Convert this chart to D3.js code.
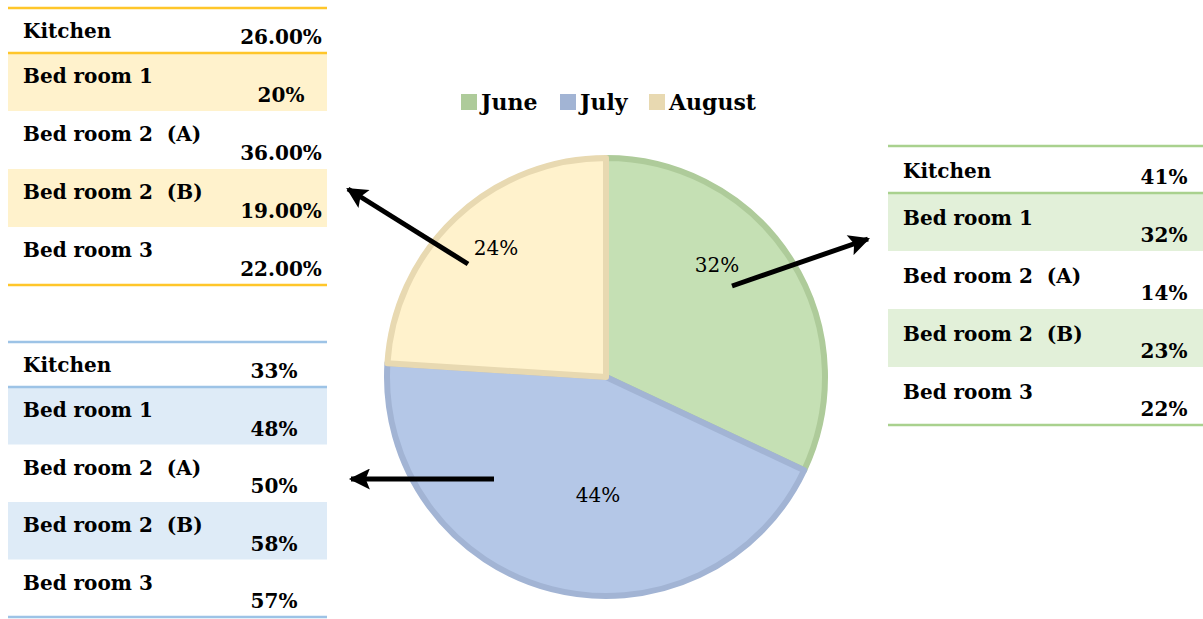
<!DOCTYPE html>
<html>
<head>
<meta charset="utf-8">
<script src="https://cdn.jsdelivr.net/npm/d3@7"></script>
<style>
  body { margin: 0; background: #fff; }
  svg { display: block; font-family: "DejaVu Serif", serif; }
</style>
</head>
<body>
<div class="chart"></div>
<script>

// ===============================
// Data
// ===============================

const months = ["June", "July", "August"];
const shares = [32, 44, 24];

const rooms = ["Kitchen", "Bed room 1", "Bed room 2  (A)", "Bed room 2  (B)", "Bed room 3"];
const juneValues = ["41%", "32%", "14%", "23%", "22%"];
const julyValues = ["33%", "48%", "50%", "58%", "57%"];
const augustValues = ["26.00%", "20%", "36.00%", "19.00%", "22.00%"];

const width = 1203;
const height = 619;

const svg = d3.select(".chart")
    .append("svg")
    .attr("width", width)
    .attr("height", height);

const fills = ["#c5e0b4", "#b4c7e7", "#fff2cc"];
const borders = ["#aecb9a", "#a2b4d4", "#e8d9b1"];

// =========================
// Arrow marker
// =========================

svg.append("defs").append("marker")
    .attr("id", "arrow")
    .attr("viewBox", "0 0 10 10")
    .attr("refX", 9)
    .attr("refY", 5)
    .attr("markerWidth", 4.8)
    .attr("markerHeight", 4.2)
    .attr("markerUnits", "strokeWidth")
    .attr("orient", "auto")
    .append("path")
    .attr("d", "M0,0 L10,5 L0,10 L2,5 Z")
    .attr("fill", "#000");

// =========================
// Pie
// =========================

const cx = 606, cy = 377, r = 222;

const pie = d3.pie().sort(null)(shares);
const arc = d3.arc().innerRadius(0).outerRadius(r - 3);

const pieG = svg.append("g").attr("transform", `translate(${cx},${cy})`);

pieG.selectAll("path")
    .data(pie)
    .join("path")
    .attr("d", arc)
    .attr("fill", (d, i) => fills[i])
    .attr("stroke", (d, i) => borders[i])
    .attr("stroke-width", 6)
    .attr("stroke-linejoin", "round");

// best-fit style label placement (offset from pie centre)
const labelOffsets = [[111, -112], [-8, 118], [-110, -129]];

pieG.selectAll("text.pct")
    .data(pie)
    .join("text")
    .attr("class", "pct")
    .attr("transform", (d, i) => `translate(${labelOffsets[i]})`)
    .attr("text-anchor", "middle")
    .attr("dy", "0.35em")
    .style("font-size", "20px")
    .text(d => d.data + "%");

// =========================
// Legend
// =========================

const legendX = [461, 560, 649];

const legend = svg.append("g")
    .selectAll("g")
    .data(months)
    .join("g")
    .attr("transform", (d, i) => `translate(${legendX[i]},94)`);

legend.append("rect")
    .attr("width", 16)
    .attr("height", 16)
    .attr("fill", (d, i) => borders[i]);

legend.append("text")
    .attr("x", 20)
    .attr("y", 16)
    .style("font-size", "22px")
    .style("font-weight", "bold")
    .text(d => d);

// =========================
// Tables
// =========================

const drawTable = (values, opt) => {

    const tops = [opt.top, opt.top + opt.headH];
    for (let i = 2; i <= rooms.length; i++) tops.push(tops[i - 1] + opt.rowH);

    const g = svg.append("g");

    g.selectAll("rect")
        .data(rooms)
        .join("rect")
        .attr("x", opt.x0)
        .attr("y", (d, i) => tops[i])
        .attr("width", opt.x1 - opt.x0)
        .attr("height", (d, i) => tops[i + 1] - tops[i])
        .attr("fill", (d, i) => i % 2 === 1 ? opt.shade : "none");

    g.selectAll("line")
        .data([tops[0], tops[1], tops[rooms.length]])
        .join("line")
        .attr("x1", opt.x0)
        .attr("x2", opt.x1)
        .attr("y1", d => d)
        .attr("y2", d => d)
        .attr("stroke", opt.line)
        .attr("stroke-width", 2.5);

    g.selectAll("text.room")
        .data(rooms)
        .join("text")
        .attr("class", "room")
        .attr("x", opt.x0 + 15)
        .attr("y", (d, i) => tops[i] + opt.textDy)
        .style("font-size", "20px")
        .style("font-weight", "bold")
        .style("white-space", "pre")
        .text(d => d);

    g.selectAll("text.val")
        .data(values)
        .join("text")
        .attr("class", "val")
        .attr("x", opt.valX)
        .attr("y", (d, i) => tops[i + 1] - 9)
        .attr("text-anchor", "middle")
        .style("font-size", "20px")
        .style("font-weight", "bold")
        .text(d => d);
};

drawTable(augustValues, {
    x0: 8, x1: 327, top: 8, headH: 45, rowH: 58, textDy: 30,
    valX: 281, line: "#ffc62a", shade: "#fff2cc"
});

drawTable(julyValues, {
    x0: 8, x1: 327, top: 342, headH: 45, rowH: 57.5, textDy: 30,
    valX: 274, line: "#9dc3e6", shade: "#deebf7"
});

drawTable(juneValues, {
    x0: 888, x1: 1203, top: 146, headH: 47, rowH: 58, textDy: 32,
    valX: 1164, line: "#a9d18e", shade: "#e2f0d9"
});

// =========================
// Arrows
// =========================

const arrows = [
    [[468, 264], [348, 189]],
    [[732, 286], [868, 239]],
    [[494, 479], [351, 479]]
];

svg.append("g")
    .selectAll("line")
    .data(arrows)
    .join("line")
    .attr("x1", d => d[0][0])
    .attr("y1", d => d[0][1])
    .attr("x2", d => d[1][0])
    .attr("y2", d => d[1][1])
    .attr("stroke", "#000")
    .attr("stroke-width", 5)
    .attr("marker-end", "url(#arrow)");

</script>
</body>
</html>
